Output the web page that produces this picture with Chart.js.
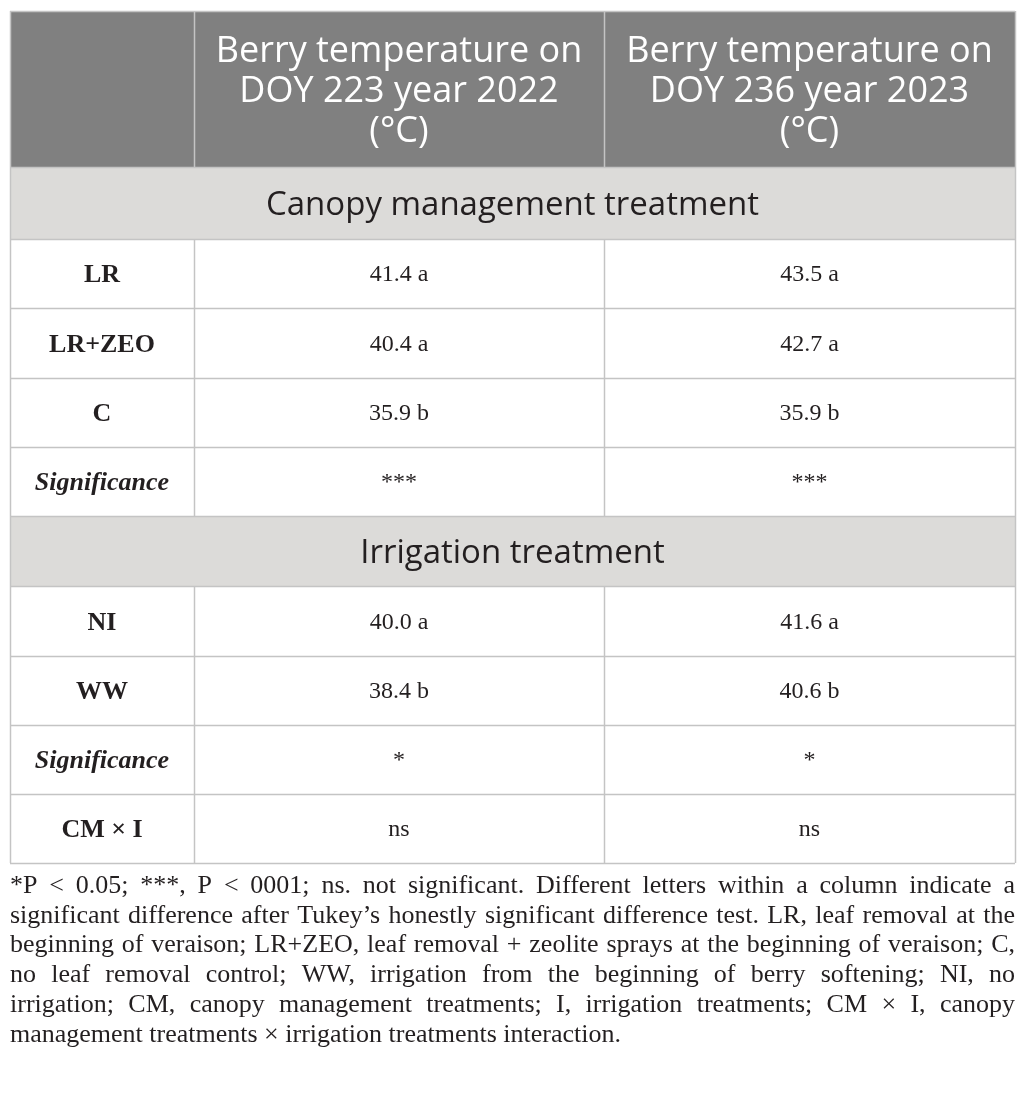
<!DOCTYPE html>
<html><head><meta charset="utf-8">
<script src="https://cdn.jsdelivr.net/npm/chart.js@4/dist/chart.umd.min.js"></script>
<style>html,body{margin:0;padding:0;background:#fff;overflow:hidden}canvas{display:block}</style>
</head><body>
<canvas id="c" width="1026" height="1094"></canvas>
<script>
// ---------- data ----------
const columnHeaders = ['', 'Berry temperature on\nDOY 223 year 2022\n(°C)', 'Berry temperature on\nDOY 236 year 2023\n(°C)'];
const sectionTitles = ['Canopy management treatment', 'Irrigation treatment'];
const canopyLabels = ['LR', 'LR+ZEO', 'C'];
const canopy2022 = [41.4, 40.4, 35.9];
const canopy2022Letters = ['a', 'a', 'b'];
const canopy2023 = [43.5, 42.7, 35.9];
const canopy2023Letters = ['a', 'a', 'b'];
const canopySignificance = ['***', '***'];
const irrigationLabels = ['NI', 'WW'];
const irrigation2022 = [40.0, 38.4];
const irrigation2022Letters = ['a', 'b'];
const irrigation2023 = [41.6, 40.6];
const irrigation2023Letters = ['a', 'b'];
const irrigationSignificance = ['*', '*'];
const significanceLabel = 'Significance';
const interactionLabel = 'CM × I';
const interaction = ['ns', 'ns'];
const footnoteLines = [
  '*P < 0.05; ***, P < 0001; ns. not significant. Different letters within a column indicate a',
  'significant difference after Tukey’s honestly significant difference test. LR, leaf removal at the',
  'beginning of veraison; LR+ZEO, leaf removal + zeolite sprays at the beginning of veraison; C,',
  'no leaf removal control; WW, irrigation from the beginning of berry softening; NI, no',
  'irrigation; CM, canopy management treatments; I, irrigation treatments; CM × I, canopy',
  'management treatments × irrigation treatments interaction.'
];

// ---------- layout (positions in scale units) ----------
const colEdges = [10, 194, 604, 1015];
const rowEdges = [11, 167, 239, 308, 378, 447, 516, 586, 656, 725, 794, 863];
const footBaselines = [893, 923, 952, 982, 1012, 1042];

const fmt = (v, l) => v.toFixed(1) + ' ' + l;
const rows = [];
rows.push({kind: 'header', cells: columnHeaders});
rows.push({kind: 'section', text: sectionTitles[0]});
canopyLabels.forEach((l, i) => rows.push({kind: 'data', label: l,
  cells: [fmt(canopy2022[i], canopy2022Letters[i]), fmt(canopy2023[i], canopy2023Letters[i])]}));
rows.push({kind: 'data', label: significanceLabel, italic: true, cells: canopySignificance});
rows.push({kind: 'section', text: sectionTitles[1]});
irrigationLabels.forEach((l, i) => rows.push({kind: 'data', label: l,
  cells: [fmt(irrigation2022[i], irrigation2022Letters[i]), fmt(irrigation2023[i], irrigation2023Letters[i])]}));
rows.push({kind: 'data', label: significanceLabel, italic: true, cells: irrigationSignificance});
rows.push({kind: 'data', label: interactionLabel, cells: interaction});

const HEADER_BG = '#808080';
const SECTION_BG = '#dcdbd9';
const LINE = '#c4c4c4';
const TEXT = '#231f20';

function capH(ctx) { return ctx.measureText('H').actualBoundingBoxAscent; }

const tablePlugin = {
  id: 'table',
  afterDraw(chart) {
    const ctx = chart.ctx, xs = chart.scales.x, ys = chart.scales.y;
    const X = v => xs.getPixelForValue(v), Y = v => ys.getPixelForValue(v);
    const L = X(colEdges[0]), R = X(colEdges[colEdges.length - 1]);
    ctx.save();
    // backgrounds
    rows.forEach((r, i) => {
      const t = Y(rowEdges[i]), b = Y(rowEdges[i + 1]);
      if (r.kind === 'header') { ctx.fillStyle = HEADER_BG; ctx.fillRect(L, t, R - L, b - t); }
      if (r.kind === 'section') { ctx.fillStyle = SECTION_BG; ctx.fillRect(L, t, R - L, b - t); }
    });
    // lines
    ctx.strokeStyle = LINE; ctx.lineWidth = 1.5;
    rowEdges.forEach(e => { const y = Math.round(Y(e)) + 0.5; ctx.beginPath(); ctx.moveTo(L, y); ctx.lineTo(R, y); ctx.stroke(); });
    rows.forEach((r, i) => {
      const t = Y(rowEdges[i]), b = Y(rowEdges[i + 1]);
      colEdges.forEach((c, ci) => {
        if (r.kind === 'section' && ci > 0 && ci < colEdges.length - 1) return;
        const x = Math.round(X(c)) + 0.5;
        ctx.beginPath(); ctx.moveTo(x, t); ctx.lineTo(x, b); ctx.stroke();
      });
    });
    // text
    ctx.textAlign = 'center'; ctx.textBaseline = 'alphabetic';
    rows.forEach((r, i) => {
      const t = Y(rowEdges[i]), b = Y(rowEdges[i + 1]), mid = (t + b) / 2;
      if (r.kind === 'header') {
        ctx.font = '36px "Open Sans"'; ctx.fillStyle = '#ffffff';
        const ch = capH(ctx);
        r.cells.forEach((txt, ci) => {
          if (!txt) return;
          const lines = txt.split('\n');
          const cx = (X(colEdges[ci]) + X(colEdges[ci + 1])) / 2;
          lines.forEach((ln, li) => ctx.fillText(ln, cx, mid + ch / 2 + (li - (lines.length - 1) / 2) * 40));
        });
      } else if (r.kind === 'section') {
        ctx.font = '33px "Open Sans"'; ctx.fillStyle = TEXT;
        ctx.fillText(r.text, (L + R) / 2, mid + capH(ctx) / 2);
      } else {
        ctx.fillStyle = TEXT;
        ctx.font = (r.italic ? 'italic ' : '') + 'bold 26px "Liberation Serif"';
        ctx.fillText(r.label, (X(colEdges[0]) + X(colEdges[1])) / 2, mid + capH(ctx) / 2);
        ctx.font = '24px "Liberation Serif"';
        const ch = ctx.measureText('4').actualBoundingBoxAscent;
        r.cells.forEach((txt, ci) => {
          const cx = (X(colEdges[ci + 1]) + X(colEdges[ci + 2])) / 2;
          ctx.fillText(txt, cx, mid + ch / 2);
        });
      }
    });
    // footnote (justified); size chosen so the widest justified line fits
    ctx.fillStyle = TEXT; ctx.textAlign = 'left';
    ctx.font = '100px "Liberation Serif"';
    let fs = 26;
    footnoteLines.slice(0, -1).forEach(ln => {
      const w = ctx.measureText(ln).width;
      fs = Math.min(fs, 100 * (R - L - 4) / w);
    });
    ctx.font = fs.toFixed(2) + 'px "Liberation Serif"';
    footnoteLines.forEach((ln, li) => {
      const y = Y(footBaselines[li]);
      if (li === footnoteLines.length - 1) { ctx.fillText(ln, L, y); return; }
      const words = ln.split(' ');
      const widths = words.map(w => ctx.measureText(w).width);
      const total = widths.reduce((a, b) => a + b, 0);
      const gap = (R - L - total) / (words.length - 1);
      let x = L;
      words.forEach((w, wi) => { ctx.fillText(w, x, y); x += widths[wi] + gap; });
    });
    ctx.restore();
  }
};

new Chart(document.getElementById('c'), {
  type: 'scatter',
  data: {datasets: []},
  options: {
    responsive: false, animation: false, events: [],
    devicePixelRatio: 1,
    layout: {padding: 0},
    plugins: {legend: {display: false}, tooltip: {enabled: false}},
    scales: {
      x: {type: 'linear', min: 0, max: 1026, display: false},
      y: {type: 'linear', min: 0, max: 1094, reverse: true, display: false}
    }
  },
  plugins: [tablePlugin]
});
</script>
</body></html>
